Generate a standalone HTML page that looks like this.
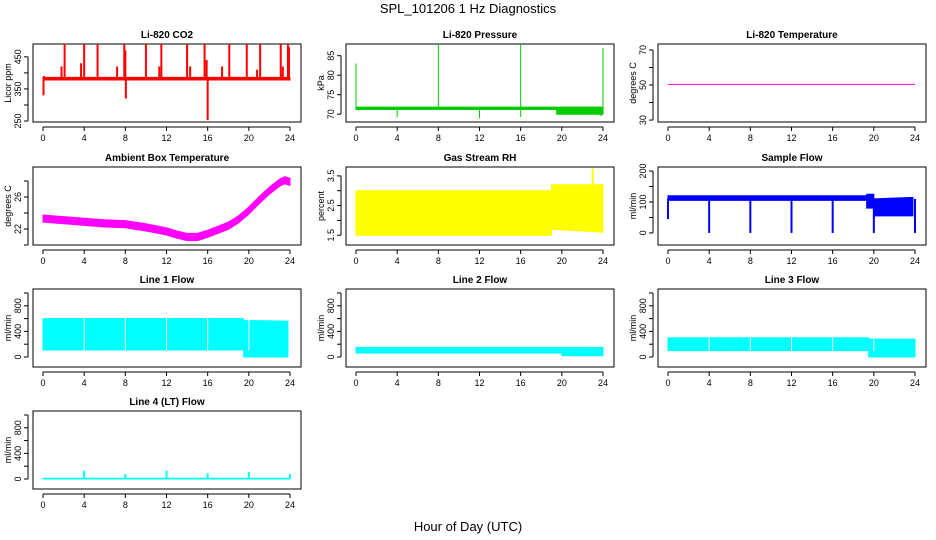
<!DOCTYPE html>
<html><head><meta charset="utf-8"><style>
body{margin:0;background:#fff;}
svg{display:block;font-family:"Liberation Sans",sans-serif;}
</style></head><body>
<svg id="c" width="936" height="540">
<text x="468" y="13" text-anchor="middle" font-size="13">SPL_101206  1 Hz Diagnostics</text>
<text x="468" y="531" text-anchor="middle" font-size="13">Hour of Day (UTC)</text>
</svg>
<script>
const xTicks=[0,4,8,12,16,20,24];
// CO2
const co2BandH=[0,24], co2BandLo=[378,378], co2BandHi=[386,386];
const co2UpH=[0.1,1.8,2.1,3.7,4,5.3,7.2,7.9,8,10,11.3,11.5,14,14.3,15.7,15.9,17.4,18.1,19.8,20.8,21.1,23.1,23.3,23.8,23.9];
const co2UpV=[390,420,490,430,490,490,420,490,470,490,420,490,490,420,490,440,420,490,490,410,490,490,420,490,480];
const co2DnH=[0.05,8.05,16];
const co2DnV=[330,320,253];
// Pressure
const prBandH=[0,19.5,19.5,24], prBandLo=[71.2,71.2,70,70], prBandHi=[71.8,71.8,71.8,71.8];
const prUpH=[0,8,16,24]; const prUpV=[83,88,88,87];
const prDnH=[4,12,16,23.8]; const prDnV=[69.2,69,69.3,69.5];
// Li-820 temperature
const tH=[0,24]; const tV=[50.4,50.4];
// Ambient
const amH=[0,2,4,6,8,10,12,13,14,15,16,17,18,19,20,21,22,23,23.5,24];
const amV=[23.3,23.1,22.9,22.7,22.6,22.2,21.7,21.3,21.0,21.0,21.4,21.9,22.4,23.2,24.3,25.6,26.8,27.8,28.1,27.9];
// RH
const rhH=[0,19,19,24]; const rhLo=[1.5,1.5,1.7,1.6]; const rhHi=[3.0,3.0,3.2,3.2];
const rhUpH=[23]; const rhUpV=[3.75];
// Sample flow
const sfH=[0,19.3,19.3,20,20,23.8]; const sfLo=[105,105,80,80,55,55]; const sfHi=[120,120,125,125,110,115];
const sfDnH=[0,4,8,12,16,20,24]; const sfDnV=[45,0,0,0,0,0,0];
// Line flows
const l1H=[0,19.5,19.5,23.8]; const l1Lo=[110,110,0,0]; const l1Hi=[600,600,570,560];
const l2H=[0,20,20,24]; const l2Lo=[60,60,20,20]; const l2Hi=[150,150,150,150];
const l3H=[0,19.5,19.5,24]; const l3Lo=[100,100,0,0]; const l3Hi=[300,300,280,280];
const l4H=[0,24]; const l4Lo=[0,0]; const l4Hi=[12,12];
const l4UpH=[4,8,12,16,20,24]; const l4UpV=[130,80,130,90,110,80];
const gapH=[4,8,12,16,20];

const svg=document.getElementById('c');
const NS='http://www.w3.org/2000/svg';
function mk(tag,at,parent){const e=document.createElementNS(NS,tag);for(const k in at)e.setAttribute(k,at[k]);(parent||svg).appendChild(e);return e;}
const colX=[33,346,658], rowY=[44,167,289,411];
function panel(col,row,title,ylab,lo,hi,yTicks,yLabels){
  const g=mk('g',{});
  
  
  const bx=colX[col], by=rowY[row], bw=268, bh=78;
  const x0=bx+10, x1=bx+257;
  const xs=h=>x0+(x1-x0)*h/24;
  const ys=v=>by+bh-(v-lo)/(hi-lo)*bh;
  const box=mk('rect',{x:bx,y:by,width:bw,height:bh,fill:'none',stroke:'#000','stroke-width':1},g);
  
  const t=mk('text',{x:bx+bw/2,y:by-6,'text-anchor':'middle','font-size':10,'font-weight':'bold'},g);t.textContent=title;
  
  const yl=mk('text',{transform:`translate(${bx-22},${by+bh/2}) rotate(-90)`,'text-anchor':'middle','font-size':9},g);yl.textContent=ylab;
  
  mk('line',{x1:x0,x2:x1,y1:by+bh+5,y2:by+bh+5,stroke:'#000'},g);
  xTicks.forEach(h=>{mk('line',{x1:xs(h),x2:xs(h),y1:by+bh+5,y2:by+bh+9,stroke:'#000'},g);
    const tx=mk('text',{x:xs(h),y:by+bh+19,'text-anchor':'middle','font-size':9},g);tx.textContent=h;
    });
  mk('line',{x1:bx-5,x2:bx-5,y1:ys(yTicks[0]),y2:ys(yTicks[yTicks.length-1]),stroke:'#000'},g);
  yTicks.forEach((v,i)=>{mk('line',{x1:bx-9,x2:bx-5,y1:ys(v),y2:ys(v),stroke:'#000'},g);
    if(yLabels[i]!==''){const ty=mk('text',{transform:`translate(${bx-12},${ys(v)}) rotate(-90)`,'text-anchor':'middle','font-size':9},g);ty.textContent=yLabels[i];
    }});
  const clip='cl'+col+row;const cp=mk('clipPath',{id:clip},g);mk('rect',{x:bx,y:by,width:bw,height:bh},cp);
  const d=mk('g',{'clip-path':`url(#${clip})`},g);
  return {xs,ys,g:d};
}
function band(p,H,L,Hi,color,name){
  let pts=H.map((h,i)=>p.xs(h)+','+p.ys(Hi[i]));
  for(let i=H.length-1;i>=0;i--)pts.push(p.xs(H[i])+','+p.ys(L[i]));
  const e=mk('polygon',{points:pts.join(' '),fill:color,stroke:color,'stroke-width':1},p.g);
  
}
function spikes(p,H,V,base,color,name,w){
  H.forEach((h,i)=>{const e=mk('line',{x1:p.xs(h),x2:p.xs(h),y1:p.ys(base),y2:p.ys(V[i]),stroke:color,'stroke-width':w||2},p.g);
    });
}
function line(p,H,V,color,w,name){
  const e=mk('polyline',{points:H.map((h,i)=>p.xs(h)+','+p.ys(V[i])).join(' '),fill:'none',stroke:color,'stroke-width':w},p.g);
  
}
let p;
p=panel(0,0,'Li-820 CO2','Licor ppm',247,490,[250,300,350,400,450],['250','','350','','450']);
band(p,co2BandH,co2BandLo,co2BandHi,'#f00','co2-band');spikes(p,co2UpH,co2UpV,382,'#f00','co2-spike');spikes(p,co2DnH,co2DnV,382,'#f00','co2-dip');
p=panel(1,0,'Li-820 Pressure','kPa',68,88,[70,75,80,85],['70','75','80','85']);
band(p,prBandH,prBandLo,prBandHi,'#00cd00','pressure-band');spikes(p,prUpH,prUpV,71.5,'#00cd00','pressure-spike',1);spikes(p,prDnH,prDnV,71.5,'#00cd00','pressure-dip',1);
p=panel(2,0,'Li-820 Temperature','degrees C',28.9,73.4,[30,40,50,60,70],['30','','50','','70']);
line(p,tH,tV,'#f0f',1,'temperature-line');
p=panel(0,1,'Ambient Box Temperature','degrees C',20,29.75,[20,22,24,26,28],['','22','','26','']);
band(p,amH,amV.map(v=>v-0.45),amV.map(v=>v+0.45),'#f0f','ambient-band');
p=panel(1,1,'Gas Stream RH','percent',1.17,3.8,[1.5,2,2.5,3,3.5],['1.5','','2.5','','3.5']);
band(p,rhH,rhLo,rhHi,'#ff0','rh-band');spikes(p,rhUpH,rhUpV,3,'#ff0','rh-spike');
p=panel(2,1,'Sample Flow','ml/min',-39,213,[0,50,100,150,200],['0','','100','','200']);
band(p,sfH,sfLo,sfHi,'#00f','sample-flow-band');spikes(p,sfDnH,sfDnV,110,'#00f','sample-flow-dip');
const flowT=[0,200,400,600,800,1000], flowL=['0','','400','','800',''];
p=panel(0,2,'Line 1 Flow','ml/min',-156,1062,flowT,flowL);
band(p,l1H,l1Lo,l1Hi,'#0ff','line1-band');spikes(p,gapH,gapH.map(()=>620),100,'#fff','line1-gap',1);
p=panel(1,2,'Line 2 Flow','ml/min',-156,1062,flowT,flowL);
band(p,l2H,l2Lo,l2Hi,'#0ff','line2-band');
p=panel(2,2,'Line 3 Flow','ml/min',-156,1062,flowT,flowL);
band(p,l3H,l3Lo,l3Hi,'#0ff','line3-band');spikes(p,gapH,gapH.map(()=>320),90,'#fff','line3-gap',1);
p=panel(0,3,'Line 4 (LT) Flow','ml/min',-156,1062,flowT,flowL);
band(p,l4H,l4Lo,l4Hi,'#0ff','line4-band');spikes(p,l4UpH,l4UpV,5,'#0ff','line4-spike');
</script>
</body></html>
